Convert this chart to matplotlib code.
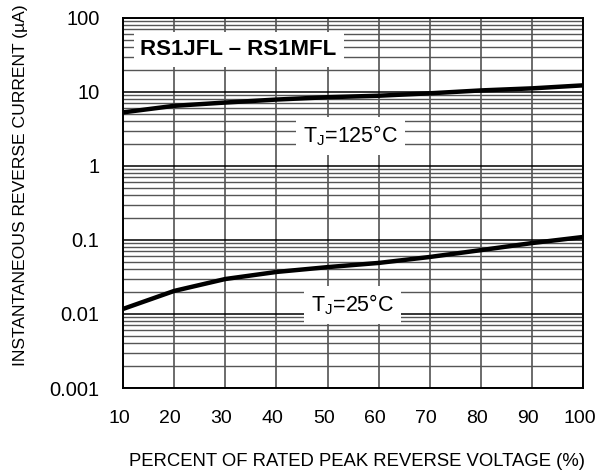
import numpy as np
import matplotlib
matplotlib.use('Agg')
import matplotlib.pyplot as plt
import matplotlib.transforms as mtransforms
from matplotlib.ticker import LogLocator, FixedLocator, NullFormatter

plt.rcParams.update({
    'font.family': ['Liberation Sans', 'DejaVu Sans'],
    'mathtext.fontset': 'custom',
    'mathtext.rm': 'Liberation Sans',
    'mathtext.it': 'Liberation Sans',
})

# percent of rated peak reverse voltage
voltage_pct = [10, 20, 30, 40, 50, 60, 70, 80, 90, 100]
# reverse current (uA)
ir_125c = [5.3, 6.5, 7.2, 7.9, 8.5, 8.9, 9.6, 10.5, 11.2, 12.3]
ir_25c = [0.0117, 0.0205, 0.0297, 0.037, 0.043, 0.049, 0.059, 0.073, 0.091, 0.11]

y_ticks = [0.001, 0.01, 0.1, 1, 10, 100]
y_tick_labels = ['0.001', '0.01', '0.1', '1', '10', '100']

fig = plt.figure(figsize=(5.98, 4.73), dpi=100)
ax = fig.add_axes([0.2057, 0.1797, 0.9757 - 0.2057, 0.962 - 0.1797])

ax.set_yscale('log')
ax.set_xlim(10, 100)
ax.set_ylim(0.001, 100)

ax.xaxis.set_major_locator(FixedLocator(voltage_pct))
ax.set_xticklabels([str(v) for v in voltage_pct])
ax.yaxis.set_major_locator(FixedLocator(y_ticks))
ax.set_yticklabels(y_tick_labels)
ax.yaxis.set_minor_locator(LogLocator(base=10, subs=np.arange(2, 10)))
ax.yaxis.set_minor_formatter(NullFormatter())

ax.tick_params(which='both', length=0, labelsize=14.5)
ax.tick_params(axis='x', labelsize=14)
ax.tick_params(axis='y', pad=17)
ax.tick_params(axis='x', pad=16)

# x tick labels sit a little left of their grid lines
shift = mtransforms.ScaledTranslation(-4 / 100, 0, fig.dpi_scale_trans)
for lbl in ax.get_xticklabels():
    lbl.set_transform(lbl.get_transform() + shift)

ax.grid(True, which='major', axis='y', color='black', linewidth=1.1)
ax.grid(True, which='minor', axis='y', color='#555555', linewidth=1.0)
ax.grid(True, which='major', axis='x', color='#444444', linewidth=1.1)
ax.set_axisbelow(True)
for s in ax.spines.values():
    s.set_linewidth(1.4)
    s.set_color('black')

ax.plot(voltage_pct, ir_125c, color='black', linewidth=3.2, zorder=3)
ax.plot(voltage_pct, ir_25c, color='black', linewidth=3.2, zorder=3)

box = dict(facecolor='white', edgecolor='none', pad=5)
ax.text(13.4, 37.5, 'RS1JFL \u2013 RS1MFL', fontsize=16, fontweight='bold',
        ha='left', va='center', bbox=box, zorder=4)
ax.text(54.5, 2.55, r'T$_\mathregular{J}$=125°C', fontsize=15.5,
        ha='center', va='center', bbox=box, zorder=4)
ax.text(54.8, 0.0132, r'T$_\mathregular{J}$=25°C', fontsize=15.5,
        ha='center', va='center', bbox=box, zorder=4)

fig.text(0.5963, 1 - 461 / 473, 'PERCENT OF RATED PEAK REVERSE VOLTAGE (%)',
         fontsize=13.3, ha='center', va='center')
fig.text(21 / 598, 1 - 185 / 473, 'INSTANTANEOUS REVERSE CURRENT (\u00b5A)',
         fontsize=12.6, ha='center', va='center', rotation=90)

fig.savefig('out.png', dpi=100)
